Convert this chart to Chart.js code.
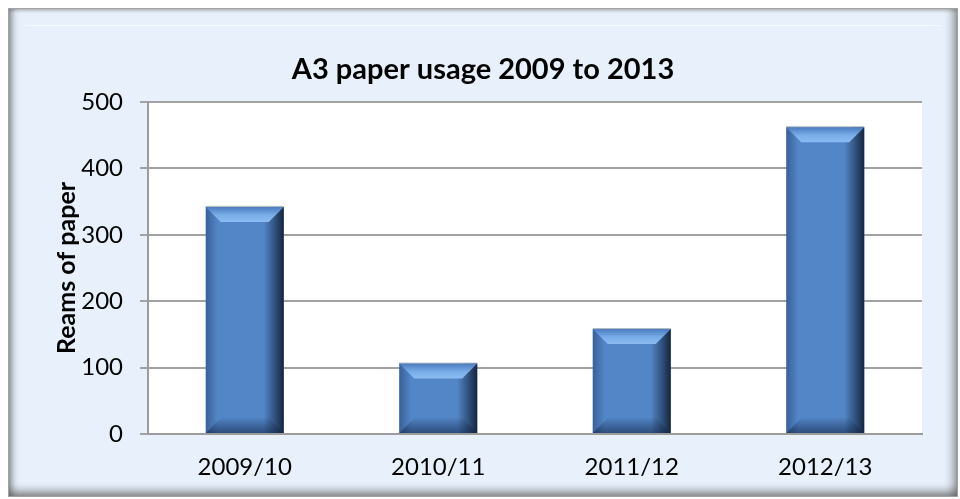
<!DOCTYPE html>
<html>
<head>
<meta charset="utf-8">
<script src="https://cdn.jsdelivr.net/npm/chart.js@4/dist/chart.umd.min.js"></script>
<style>
  html, body { margin: 0; padding: 0; background: #ffffff; }
  #wrap { position: relative; width: 960px; height: 499px; overflow: hidden; }
  #frame {
    position: absolute; left: 8px; top: 8px; width: 950px; height: 489px;
    box-sizing: border-box;
    background: #e8f1fb;
    border: 1px solid #a2a2a2;
    box-shadow:
      inset 8px 0 7px -5px rgba(60,60,60,0.55),
      inset -9px 0 8px -5px rgba(60,60,60,0.5),
      inset 0 -10px 8px -5px rgba(60,60,60,0.55),
      inset 0 3px 3px -1px rgba(120,120,120,0.35);
  }
  #frame::after {
    content: ""; position: absolute; left: 16px; right: 16px; top: 16px;
    border-top: 1px solid rgba(255,255,255,0.6);
  }
  canvas { position: absolute; left: 0; top: 0; }
</style>
</head>
<body>
<div id="wrap">
  <div id="frame"></div>
  <canvas id="chart" width="960" height="499"></canvas>
</div>
<script>
// Reams of A3 paper used per financial year
const categories = ['2009/10', '2010/11', '2011/12', '2012/13'];
const reams = [342, 106, 158, 462];
const yTicks = [0, 100, 200, 300, 400, 500];

const chartTitle = 'A3 paper usage 2009 to 2013';
const axisTitle = 'Reams of paper';
const fontFamily = 'Lato, "Open Sans", sans-serif';

// White plot area behind the grid
const plotBackground = {
  id: 'plotBackground',
  beforeDraw(chart) {
    const { ctx, chartArea: a } = chart;
    ctx.save();
    ctx.fillStyle = '#ffffff';
    ctx.fillRect(a.left, a.top, a.right - a.left, a.bottom - a.top);
    ctx.restore();
  }
};

// Centered bold title over the whole frame
const frameTitle = {
  id: 'frameTitle',
  afterDraw(chart) {
    const { ctx } = chart;
    ctx.save();
    ctx.font = 'bold 29px ' + fontFamily;
    ctx.fillStyle = '#000000';
    ctx.textAlign = 'center';
    ctx.textBaseline = 'alphabetic';
    ctx.fillText(chartTitle, 483, 79);
    ctx.restore();
  }
};

// Bevelled look on each bar: light top edge, shaded sides and bottom
const bevel = {
  id: 'bevel',
  afterDatasetsDraw(chart) {
    const { ctx } = chart;
    const meta = chart.getDatasetMeta(0);
    meta.data.forEach(bar => {
      const x0 = bar.x - bar.width / 2, x1 = bar.x + bar.width / 2;
      const y0 = bar.y, yb = bar.base;
      const h = yb - y0;
      const b = Math.min(15, h / 2);
      ctx.save();
      // left shade
      let g = ctx.createLinearGradient(x0, 0, x0 + 12, 0);
      g.addColorStop(0, 'rgba(25,50,95,0.45)');
      g.addColorStop(1, 'rgba(25,50,95,0)');
      ctx.fillStyle = g;
      ctx.fillRect(x0, y0, 12, h);
      // right dark edge
      g = ctx.createLinearGradient(x1 - 20, 0, x1, 0);
      g.addColorStop(0, 'rgba(15,30,55,0)');
      g.addColorStop(0.6, 'rgba(15,30,55,0.55)');
      g.addColorStop(1, 'rgba(15,28,48,0.92)');
      ctx.fillStyle = g;
      ctx.fillRect(x1 - 20, y0, 20, h);
      // bottom bevel
      g = ctx.createLinearGradient(0, yb - b, 0, yb);
      g.addColorStop(0, 'rgba(20,40,75,0.05)');
      g.addColorStop(1, 'rgba(20,40,75,0.6)');
      ctx.fillStyle = g;
      ctx.beginPath();
      ctx.moveTo(x0, yb); ctx.lineTo(x1, yb);
      ctx.lineTo(x1 - b, yb - b); ctx.lineTo(x0 + b, yb - b);
      ctx.closePath(); ctx.fill();
      // top bevel
      g = ctx.createLinearGradient(0, y0, 0, y0 + b);
      g.addColorStop(0, '#4a7cbf');
      g.addColorStop(0.55, '#7aaee9');
      g.addColorStop(1, '#8bbcf2');
      ctx.fillStyle = g;
      ctx.beginPath();
      ctx.moveTo(x0, y0); ctx.lineTo(x1, y0);
      ctx.lineTo(x1 - b, y0 + b); ctx.lineTo(x0 + b, y0 + b);
      ctx.closePath(); ctx.fill();
      // thin grey rim on top
      ctx.fillStyle = 'rgba(150,160,175,0.8)';
      ctx.fillRect(x0, y0 - 1, x1 - x0, 1);
      ctx.restore();
    });
  }
};

new Chart(document.getElementById('chart'), {
  type: 'bar',
  data: {
    labels: categories,
    datasets: [{
      data: reams,
      backgroundColor: '#5386c7',
      borderWidth: 0,
      categoryPercentage: 1,
      barPercentage: 0.403
    }]
  },
  options: {
    responsive: false,
    animation: false,
    layout: { padding: { left: 0, right: 38, top: 102, bottom: 0 } },
    plugins: {
      legend: { display: false },
      tooltip: { enabled: false },
      title: { display: false }
    },
    scales: {
      x: {
        grid: { display: false, drawTicks: false },
        border: { display: true, color: '#9c9c9c', width: 2 },
        ticks: {
          color: '#000000',
          padding: 19,
          font: { family: fontFamily, size: 24 }
        },
        afterFit(s) { s.height = 65; }
      },
      y: {
        min: 0,
        max: 500,
        afterBuildTicks(s) { s.ticks = yTicks.map(v => ({ value: v })); },
        grid: { color: '#a2a2a2', lineWidth: 2, tickLength: 8, drawTicks: true },
        border: { display: true, color: '#9c9c9c', width: 2 },
        ticks: {
          color: '#000000',
          padding: 17,
          font: { family: fontFamily, size: 24 }
        },
        title: {
          display: true,
          text: axisTitle,
          color: '#000000',
          font: { family: fontFamily, size: 25, weight: 'bold' },
          padding: { top: 52, bottom: 0 }
        },
        afterFit(s) { s.width = 148; }
      }
    }
  },
  plugins: [plotBackground, bevel, frameTitle]
});
</script>
</body>
</html>
